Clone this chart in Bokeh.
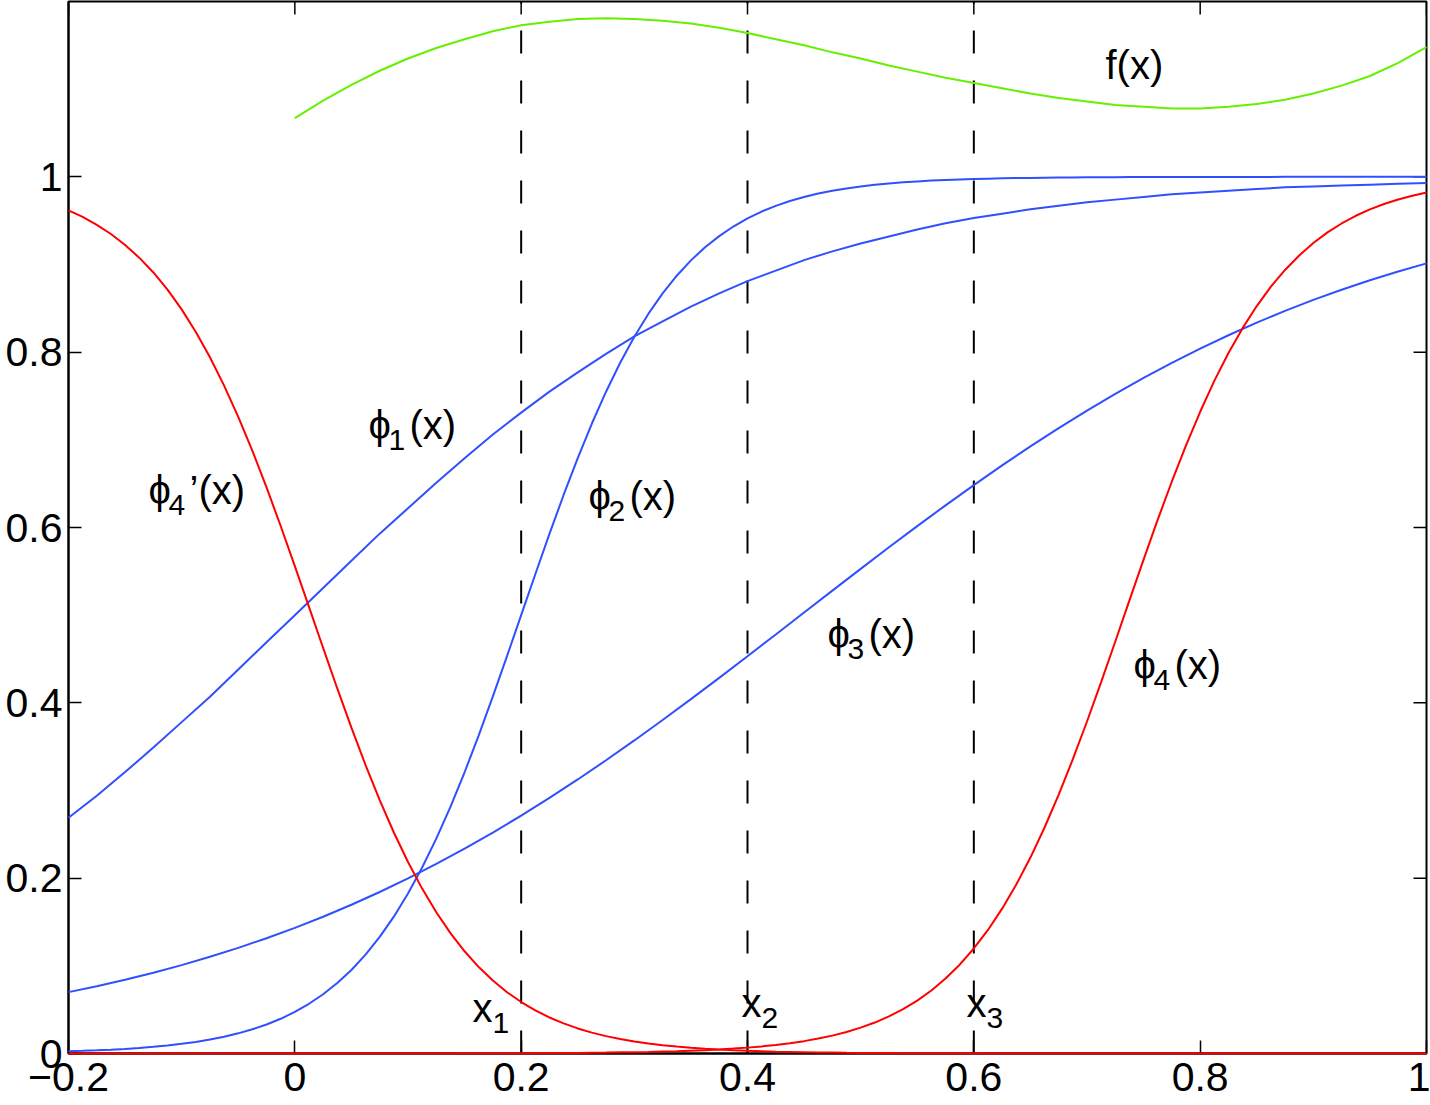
import math
from bokeh.plotting import figure
from bokeh.models import Range1d, FixedTicker, ColumnDataSource
from bokeh.core.properties import value
from bokeh.embed import file_html
from bokeh.resources import INLINE

# ---------------- data ----------------
# coarse grid (gentle curves)
xs = [-0.2, -0.175, -0.15, -0.125, -0.1, -0.075, -0.05, -0.025, 0.0, 0.025,
      0.05, 0.075, 0.1, 0.125, 0.15, 0.175, 0.2, 0.225, 0.25, 0.275,
      0.3, 0.325, 0.35, 0.375, 0.4, 0.425, 0.45, 0.475, 0.5, 0.525,
      0.55, 0.575, 0.6, 0.625, 0.65, 0.675, 0.7, 0.725, 0.75, 0.775,
      0.8, 0.825, 0.85, 0.875, 0.9, 0.925, 0.95, 0.975, 1.0]

phi1 = [0.269, 0.294, 0.321, 0.349, 0.378, 0.407, 0.438, 0.469, 0.500, 0.531,
        0.562, 0.593, 0.622, 0.651, 0.679, 0.706, 0.731, 0.755, 0.777, 0.798,
        0.818, 0.835, 0.852, 0.867, 0.881, 0.893, 0.905, 0.915, 0.924, 0.932,
        0.940, 0.947, 0.953, 0.958, 0.963, 0.967, 0.971, 0.974, 0.977, 0.980,
        0.982, 0.984, 0.986, 0.988, 0.989, 0.990, 0.991, 0.992, 0.993]

phi3 = [0.0700, 0.0767, 0.0841, 0.0921, 0.1008, 0.1103, 0.1205, 0.1315, 0.1433, 0.1560,
        0.1697, 0.1842, 0.1997, 0.2162, 0.2336, 0.2520, 0.2713, 0.2915, 0.3126, 0.3345,
        0.3571, 0.3804, 0.4042, 0.4285, 0.4531, 0.4780, 0.5030, 0.5280, 0.5528, 0.5774,
        0.6016, 0.6253, 0.6484, 0.6709, 0.6925, 0.7134, 0.7334, 0.7525, 0.7707, 0.7878,
        0.8041, 0.8193, 0.8337, 0.8471, 0.8596, 0.8712, 0.8821, 0.8921, 0.9013]

# fine grid (steep curves)
xs_fine = [-0.2, -0.1875, -0.175, -0.1625, -0.15, -0.1375, -0.125, -0.1125,
           -0.1, -0.0875, -0.075, -0.0625, -0.05, -0.0375, -0.025, -0.0125,
           0.0, 0.0125, 0.025, 0.0375, 0.05, 0.0625, 0.075, 0.0875,
           0.1, 0.1125, 0.125, 0.1375, 0.15, 0.1625, 0.175, 0.1875,
           0.2, 0.2125, 0.225, 0.2375, 0.25, 0.2625, 0.275, 0.2875,
           0.3, 0.3125, 0.325, 0.3375, 0.35, 0.3625, 0.375, 0.3875,
           0.4, 0.4125, 0.425, 0.4375, 0.45, 0.4625, 0.475, 0.4875,
           0.5, 0.5125, 0.525, 0.5375, 0.55, 0.5625, 0.575, 0.5875,
           0.6, 0.6125, 0.625, 0.6375, 0.65, 0.6625, 0.675, 0.6875,
           0.7, 0.7125, 0.725, 0.7375, 0.75, 0.7625, 0.775, 0.7875,
           0.8, 0.8125, 0.825, 0.8375, 0.85, 0.8625, 0.875, 0.8875,
           0.9, 0.9125, 0.925, 0.9375, 0.95, 0.9625, 0.975, 0.9875, 1.0]

phi2 = [0.0025, 0.0030, 0.0036, 0.0043, 0.0052, 0.0063, 0.0076, 0.0091,
        0.0110, 0.0132, 0.0159, 0.0191, 0.0230, 0.0276, 0.0331, 0.0396,
        0.0474, 0.0567, 0.0676, 0.0804, 0.0953, 0.1128, 0.1330, 0.1561,
        0.1824, 0.2121, 0.2451, 0.2814, 0.3208, 0.3629, 0.4073, 0.4533,
        0.5000, 0.5467, 0.5927, 0.6371, 0.6792, 0.7186, 0.7549, 0.7879,
        0.8176, 0.8439, 0.8670, 0.8872, 0.9047, 0.9196, 0.9324, 0.9433,
        0.9526, 0.9604, 0.9669, 0.9724, 0.9770, 0.9809, 0.9841, 0.9868,
        0.9890, 0.9909, 0.9924, 0.9937, 0.9948, 0.9957, 0.9964, 0.9970,
        0.9975, 0.9979, 0.9983, 0.9986, 0.9988, 0.9990, 0.9992, 0.9993,
        0.9994, 0.9995, 0.9996, 0.9997, 0.9997, 0.9998, 0.9998, 0.9998,
        0.9999, 0.9999, 0.9999, 0.9999, 0.9999, 0.9999, 1.0, 1.0,
        1.0, 1.0, 1.0, 1.0, 1.0, 1.0, 1.0, 1.0, 1.0]

phi4 = [0.0, 0.0, 0.0, 0.0, 0.0, 0.0, 0.0, 0.0,
        0.0, 0.0, 0.0, 0.0, 0.0, 0.0, 0.0, 0.0,
        0.0, 0.0, 0.0, 0.0, 0.0, 0.0, 0.0, 0.0,
        0.0001, 0.0001, 0.0001, 0.0001, 0.0002, 0.0002, 0.0002, 0.0003,
        0.0003, 0.0004, 0.0005, 0.0006, 0.0007, 0.0009, 0.0010, 0.0013,
        0.0015, 0.0018, 0.0022, 0.0026, 0.0032, 0.0038, 0.0046, 0.0056,
        0.0067, 0.0081, 0.0098, 0.0118, 0.0141, 0.0170, 0.0204, 0.0245,
        0.0295, 0.0353, 0.0423, 0.0506, 0.0603, 0.0719, 0.0855, 0.1013,
        0.1198, 0.1409, 0.1652, 0.1927, 0.2235, 0.2578, 0.2953, 0.3357,
        0.3787, 0.4237, 0.4700, 0.5169, 0.5634, 0.6089, 0.6525, 0.6937,
        0.7320, 0.7672, 0.7990, 0.8274, 0.8526, 0.8747, 0.8938, 0.9103,
        0.9245, 0.9366, 0.9468, 0.9556, 0.9629, 0.9690, 0.9742, 0.9785, 0.9821]

phi4p = [0.9618, 0.9543, 0.9453, 0.9348, 0.9223, 0.9078, 0.8909, 0.8713,
         0.8488, 0.8231, 0.7942, 0.7618, 0.7261, 0.6873, 0.6457, 0.6017,
         0.5560, 0.5094, 0.4626, 0.4164, 0.3717, 0.3290, 0.2890, 0.2521,
         0.2184, 0.1881, 0.1611, 0.1373, 0.1166, 0.0986, 0.0832, 0.0699,
         0.0587, 0.0491, 0.0411, 0.0343, 0.0286, 0.0238, 0.0198, 0.0165,
         0.0137, 0.0114, 0.0095, 0.0079, 0.0065, 0.0054, 0.0045, 0.0037,
         0.0031, 0.0026, 0.0021, 0.0018, 0.0015, 0.0012, 0.0010, 0.0008,
         0.0007, 0.0006, 0.0005, 0.0004, 0.0003, 0.0003, 0.0002, 0.0002,
         0.0002, 0.0001, 0.0001, 0.0001, 0.0001, 0.0, 0.0, 0.0,
         0.0, 0.0, 0.0, 0.0, 0.0, 0.0, 0.0, 0.0,
         0.0, 0.0, 0.0, 0.0, 0.0, 0.0, 0.0, 0.0,
         0.0, 0.0, 0.0, 0.0, 0.0, 0.0, 0.0, 0.0, 0.0]

fx_x = [0.0, 0.025, 0.05, 0.075, 0.1, 0.125, 0.15, 0.175, 0.2, 0.225,
        0.25, 0.275, 0.3, 0.325, 0.35, 0.375, 0.4, 0.425, 0.45, 0.475,
        0.5, 0.525, 0.55, 0.575, 0.6, 0.625, 0.65, 0.675, 0.7, 0.725,
        0.75, 0.775, 0.8, 0.825, 0.85, 0.875, 0.9, 0.925, 0.95, 0.975, 1.0]
fx = [1.067, 1.087, 1.105, 1.121, 1.135, 1.147, 1.157, 1.166, 1.173, 1.177,
      1.180, 1.181, 1.180, 1.178, 1.175, 1.170, 1.164, 1.157, 1.150, 1.142,
      1.135, 1.127, 1.120, 1.113, 1.107, 1.101, 1.095, 1.090, 1.086, 1.082,
      1.080, 1.078, 1.078, 1.080, 1.083, 1.088, 1.095, 1.104, 1.115, 1.130, 1.148]

nodes = [0.2, 0.4, 0.6]

xticks = [-0.2, 0, 0.2, 0.4, 0.6, 0.8, 1]
xtick_labels = ["\u22120.2", "0", "0.2", "0.4", "0.6", "0.8", "1"]
yticks = [0, 0.2, 0.4, 0.6, 0.8, 1]
ytick_labels = ["0", "0.2", "0.4", "0.6", "0.8", "1"]

label_main = ["\u03d5", "\u03d5", "\u03d5", "\u03d5", "\u03d5", "f(x)", "x", "x", "x"]
label_sub = ["1", "4", "2", "3", "4", "", "1", "2", "3"]
label_rest = ["(x)", "\u2019(x)", "(x)", "(x)", "(x)", "", "", "", ""]
label_x = [0.0651, -0.1293, 0.2595, 0.4707, 0.7411, 0.7163, 0.157, 0.3947, 0.5935]
label_y = [0.717, 0.643, 0.636, 0.478, 0.443, 1.128, 0.052, 0.058, 0.058]

# ---------------- figure ----------------
FONT = "Liberation Sans, DejaVu Sans"
TICK_FONT = "Liberation Sans"
BLUE = "#3050ff"
RED = "#ff0000"
GREEN = "#66f000"
X0, X1 = -0.2, 1.0
Y0, Y1 = 0.0, 1.2
TICK_LEN = 13

p = figure(width=1430, height=1105, output_backend="svg", toolbar_location=None,
           x_range=Range1d(X0, X1), y_range=Range1d(Y0, Y1),
           min_border_left=68, min_border_right=4, min_border_top=1, min_border_bottom=52,
           background_fill_color="white", border_fill_color="white")
p.grid.visible = False
p.outline_line_color = "black"
p.outline_line_width = 2


def style_axis(ax, ticks, labels, standoff):
    ax.ticker = FixedTicker(ticks=ticks)
    ax.major_label_overrides = dict(zip(ticks, labels))
    ax.axis_line_color = "black"
    ax.axis_line_width = 2
    ax.major_tick_in = TICK_LEN
    ax.major_tick_out = 0
    ax.major_tick_line_width = 1.5
    ax.major_tick_line_color = "black"
    ax.minor_tick_in = 0
    ax.minor_tick_out = 0
    ax.major_label_text_font = TICK_FONT
    ax.major_label_text_font_size = "41px"
    ax.major_label_text_color = "black"
    ax.major_label_standoff = standoff


style_axis(p.xaxis[0], xticks, xtick_labels, 9)
style_axis(p.yaxis[0], yticks, ytick_labels, 6)

# mirrored inward ticks on the top and right edges of the box
tick_style = dict(length=TICK_LEN, length_units="screen", line_color="black", line_width=1.5)
p.ray(x=xticks, y=[Y1] * len(xticks), angle=-math.pi / 2, **tick_style)
p.ray(x=[X1] * len(yticks), y=yticks, angle=math.pi, **tick_style)

# dashed node lines
p.segment(x0=nodes, y0=[Y0] * len(nodes), x1=nodes, y1=[Y1] * len(nodes),
          line_color="black", line_width=2, line_dash="23 27")

# curves
for cx, cy, col in [(xs, phi1, BLUE), (xs_fine, phi2, BLUE), (xs, phi3, BLUE),
                    (xs_fine, phi4, RED), (xs_fine, phi4p, RED), (fx_x, fx, GREEN)]:
    r = p.line(cx, cy, line_color=col, line_width=2)
    r.level = "overlay"

# curve labels
src = ColumnDataSource(dict(x=label_x, y=label_y, main=label_main, sub=label_sub, rest=label_rest))
common = dict(text_font=value(FONT), text_color="black", text_baseline="alphabetic", text_align="left")
p.text(x="x", y="y", text="main", source=src, text_font_size="40px", **common)
p.text(x="x", y="y", text="sub", source=src, text_font_size="30px", x_offset=20, y_offset=15, **common)
p.text(x="x", y="y", text="rest", source=src, text_font_size="40px", x_offset=41, **common)

open("out.html", "w").write(file_html(p, INLINE))
